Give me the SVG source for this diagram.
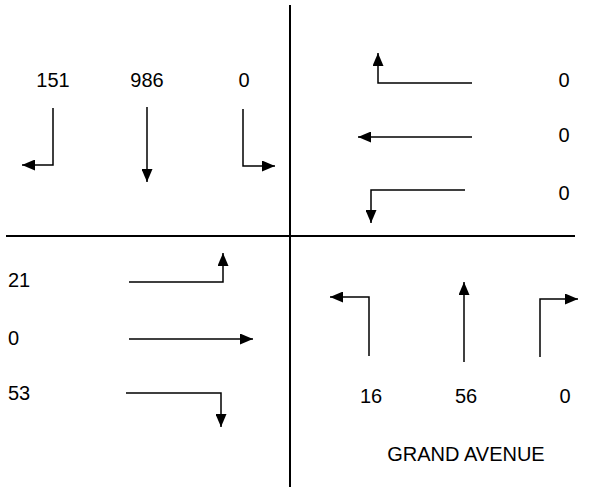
<svg xmlns="http://www.w3.org/2000/svg" width="589" height="487" viewBox="0 0 589 487">
<style>
text{font-family:"Liberation Sans",Arial,sans-serif;font-size:20px;fill:#000}
.c{text-anchor:middle}
.a{fill:none;stroke:#000;stroke-width:1.5;marker-end:url(#ah)}
.m{fill:none;stroke:#000;stroke-width:2}
</style>
<defs>
<marker id="ah" markerUnits="userSpaceOnUse" markerWidth="13" markerHeight="11" refX="13" refY="5.5" orient="auto">
<path d="M0,0 L13,5.5 L0,11 z" fill="#000"/>
</marker>
</defs>
<g id="streets">
<line class="m" x1="290" y1="5" x2="290" y2="487"/>
<line class="m" x1="6" y1="236" x2="575" y2="236"/>
</g>
<g id="connectors">
<path class="a" d="M53,108 V165 H22"/>
<path class="a" d="M147,107 V182"/>
<path class="a" d="M243,109 V166 H275"/>
<path class="a" d="M472,83 H378 V53"/>
<path class="a" d="M472,137 H358"/>
<path class="a" d="M465,190 H371 V223"/>
<path class="a" d="M129,282 H223 V253"/>
<path class="a" d="M129,339 H253"/>
<path class="a" d="M126,393 H221 V427"/>
<path class="a" d="M369,356 V297 H330"/>
<path class="a" d="M464,362 V282"/>
<path class="a" d="M540,357 V299 H578"/>
</g>
<g id="labels">
<text class="c" x="53" y="87">151</text>
<text class="c" x="147" y="87">986</text>
<text class="c" x="244" y="87">0</text>
<text class="c" x="564" y="87">0</text>
<text class="c" x="564" y="142">0</text>
<text class="c" x="564" y="200">0</text>
<text x="8" y="287">21</text>
<text x="8" y="345">0</text>
<text x="8" y="400">53</text>
<text class="c" x="371" y="403">16</text>
<text class="c" x="466" y="403">56</text>
<text class="c" x="565" y="403">0</text>
<text class="c" x="466" y="461">GRAND AVENUE</text>
</g>
</svg>
